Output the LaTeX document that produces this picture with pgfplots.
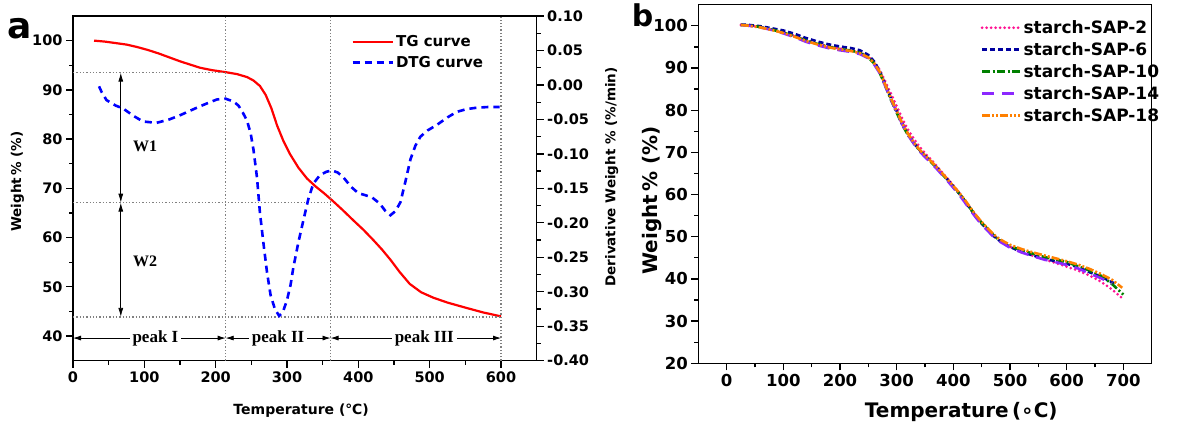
\documentclass[border=0pt]{standalone}
\usepackage{fontspec}
\setmainfont{DejaVu Sans}
\newfontfamily\serifb{Liberation Serif}
\usepackage{pgfplots}
\pgfplotsset{compat=1.18}
\usetikzlibrary{arrows.meta}
\definecolor{tgred}{RGB}{255,0,0}
\definecolor{dtgblue}{RGB}{0,0,255}
\definecolor{cpink}{RGB}{255,20,147}
\definecolor{cnavy}{RGB}{0,0,160}
\definecolor{cgreen}{RGB}{0,128,0}
\definecolor{cviolet}{RGB}{140,40,255}
\definecolor{corange}{RGB}{255,128,0}
\newcommand{\fs}[1]{\fontsize{#1}{#1}\selectfont\bfseries}
\begin{document}
\begin{tikzpicture}
\path[use as bounding box] (0pt,0pt) rectangle (1187pt,-432pt);
\pgfplotsset{
  myaxis/.style={scale only axis, axis line style={line width=1.5pt},
    every tick/.style={line width=1.3pt,black},
    major tick length=7pt, minor tick length=4pt, tick align=outside,
    /pgf/number format/assume math mode=true},
}
% ---------------- panel a: TG ----------------
\begin{axis}[myaxis, at={(73pt,-360.7pt)}, anchor=south west,
  width=463.7pt, height=344.7pt,
  xmin=0, xmax=650, ymin=35, ymax=105,
  xtick={0,100,...,600}, ytick={40,50,...,100},
  minor x tick num=1, minor y tick num=1,
  xtick pos=bottom, ytick pos=left,
  ticklabel style={font=\fs{14.5}},
  xlabel={Temperature (℃)}, ylabel={Weight\,\% (\%)},
  xlabel style={font=\fs{14}, at={(axis description cs:0.492,-0.146)}, anchor=center},
  ylabel style={font=\fs{13.5}, at={(axis description cs:-0.12,0.52)}, anchor=center},
  clip=false]
\addplot[tgred, line width=2.2pt] coordinates {
(29.5,100.0) (45,99.8) (60,99.5) (75,99.2) (90,98.7) (105,98.1) (120,97.4)
(135,96.6) (150,95.8) (165,95.1) (178,94.5) (195,94.0) (214,93.6) (230,93.2)
(244,92.6) (253,91.9) (262,90.8) (270,89.0) (278,86.3) (286,82.8) (295,79.6)
(304,77.0) (316,74.2) (328,72.0) (340,70.4) (352,69.0) (363,67.6) (378,65.6)
(393,63.5) (407,61.6) (421,59.5) (433,57.6) (445,55.5) (458,53.0) (472,50.6)
(488,48.9) (505,47.8) (525,46.8) (552,45.7) (575,44.8) (600,44.0)};
% guides
\draw[gray, dotted, line width=1.3pt] (axis cs:0,93.5) -- (axis cs:214,93.5);
\draw[gray, dotted, line width=1.3pt] (axis cs:0,67.1) -- (axis cs:361,67.1);
\draw[gray, dotted, line width=1.3pt] (axis cs:0,43.9) -- (axis cs:600,43.9);
\draw[gray, dotted, line width=1.3pt] (axis cs:214,35) -- (axis cs:214,105);
\draw[gray, dotted, line width=1.3pt] (axis cs:361,35) -- (axis cs:361,105);
\draw[gray, dotted, line width=1.3pt] (axis cs:600,35) -- (axis cs:600,105);
\draw[{Latex[length=9pt,width=5pt]}-{Latex[length=9pt,width=5pt]}, line width=0.8pt] (axis cs:67,93.5) -- (axis cs:67,67.1);
\draw[{Latex[length=9pt,width=5pt]}-{Latex[length=9pt,width=5pt]}, line width=0.8pt] (axis cs:67,67.1) -- (axis cs:67,43.9);
\node[font=\serifb\fs{16}] at (axis cs:101,78.5) {W1};
\node[font=\serifb\fs{16}] at (axis cs:101,55.1) {W2};
\draw[{Latex[length=8pt,width=5pt]}-{Latex[length=8pt,width=5pt]}, line width=0.8pt] (axis cs:0,39.6) -- node[pos=0.54, fill=white, inner sep=3pt, font=\serifb\fs{17}] {peak I} (axis cs:214,39.6);
\draw[{Latex[length=8pt,width=5pt]}-{Latex[length=8pt,width=5pt]}, line width=0.8pt] (axis cs:214,39.6) -- node[pos=0.5, fill=white, inner sep=3pt, font=\serifb\fs{17}] {peak II} (axis cs:361,39.6);
\draw[{Latex[length=8pt,width=5pt]}-{Latex[length=8pt,width=5pt]}, line width=0.8pt] (axis cs:361,39.6) -- node[pos=0.55, fill=white, inner sep=3pt, font=\serifb\fs{17}] {peak III} (axis cs:600,39.6);
\end{axis}
% ---------------- panel a: DTG (right axis) ----------------
\begin{axis}[myaxis, at={(73pt,-360.7pt)}, anchor=south west,
  width=463.7pt, height=344.7pt,
  xmin=0, xmax=650, ymin=-0.40, ymax=0.10,
  axis x line=none, axis y line*=right,
  ytick={-0.40,-0.35,...,0.101}, minor y tick num=1,
  yticklabel style={font=\fs{14.5}, /pgf/number format/.cd, fixed, fixed zerofill, precision=2},
  ylabel={Derivative Weight \% (\%/min)},
  ylabel style={font=\fs{13.5}, at={(axis description cs:1.162,0.533)}, anchor=center},
  legend style={at={(rel axis cs:0.6,0.95)}, anchor=north west, draw=none, fill=none,
    font=\fs{15}, row sep=4pt, inner sep=0pt},
  legend cell align=left,
  legend image code/.code={\draw[#1] (0pt,0pt) -- (40pt,0pt);}]
\addlegendimage{tgred, line width=2.2pt}
\addlegendentry{TG curve}
\addplot[dtgblue, line width=2.6pt, dash pattern=on 7pt off 5pt] coordinates {
(36.5,-0.002) (40,-0.010) (47,-0.022) (60,-0.030) (70,-0.034) (85,-0.045)
(98,-0.053) (117,-0.055) (135,-0.050) (150,-0.044) (165,-0.037) (178,-0.031)
(192,-0.025) (202,-0.021) (214,-0.020) (225,-0.024) (232,-0.030) (238,-0.040)
(244,-0.052) (249,-0.070) (253,-0.094) (258,-0.135) (262,-0.185) (267,-0.230)
(272,-0.272) (277,-0.305) (283,-0.325) (289,-0.335) (294,-0.330) (300,-0.312)
(305,-0.290) (309,-0.264) (316,-0.228) (323,-0.196) (330,-0.165) (337,-0.143)
(346,-0.131) (355,-0.126) (363,-0.124) (371,-0.127) (379,-0.134) (390,-0.148)
(400,-0.157) (410,-0.160) (419,-0.163) (430,-0.172) (438,-0.183) (445,-0.189)
(452,-0.183) (459,-0.170) (466,-0.140) (473,-0.108) (480,-0.088) (487,-0.075)
(497,-0.066) (510,-0.058) (525,-0.047) (538,-0.039) (552,-0.035) (566,-0.033)
(582,-0.032) (598,-0.032)};
\addlegendentry{DTG curve}
\end{axis}
\draw[line width=1.5pt] (73pt,-16pt) -- (536.7pt,-16pt);
\node[font=\fs{36}, anchor=base] at (20pt,-38pt) {a};
% ---------------- panel b ----------------
\begin{axis}[myaxis, at={(698.3pt,-363.3pt)}, anchor=south west,
  width=453.4pt, height=358.6pt,
  xmin=-50, xmax=750, ymin=20, ymax=105,
  xtick={0,100,...,700}, ytick={20,30,...,100},
  minor x tick num=1, minor y tick num=1,
  xtick pos=bottom, ytick pos=left,
  ticklabel style={font=\fs{16.5}},
  xlabel={Temperature\,(∘C)}, ylabel={Weight\,\% (\%)},
  xlabel style={font=\fs{20}, at={(axis description cs:0.58,-0.135)}, anchor=center},
  ylabel style={font=\fs{20}, at={(axis description cs:-0.103,0.455)}, anchor=center},
  legend style={at={(rel axis cs:0.622,0.962)}, anchor=north west, draw=none, fill=none,
    font=\fs{17}, row sep=3.5pt, inner sep=0pt},
  legend cell align=left,
  legend image code/.code={\draw[#1] (0pt,0pt) -- (38pt,0pt);}]
\addplot[cpink, line width=3pt, line cap=round, dash pattern=on 0pt off 4.5pt] coordinates {
(25,100.2) (40,100.1) (60,99.7) (80,99.1) (100,98.5) (120,97.6) (140,96.6)
(160,95.8) (180,95.1) (200,94.6) (220,94.2) (235,93.7) (250,92.7) (260,91.5)
(270,89.6) (280,86.8) (290,83.9) (300,81.0) (310,78.0) (320,75.4) (330,73.3)
(340,71.4) (350,69.8) (360,68.4) (370,66.9) (380,65.3) (390,63.8) (400,62.2)
(410,60.5) (420,58.7) (430,56.8) (440,55.0) (450,53.4) (460,51.9) (470,50.5)
(480,49.3) (490,48.4) (500,47.6) (520,46.4) (540,45.5) (560,44.6) (580,43.8)
(600,42.9) (620,42.0) (640,40.8) (660,39.4) (680,37.5) (700,35.2)};
\addlegendentry{starch-SAP-2}
\addplot[cnavy, line width=2.6pt, dash pattern=on 5pt off 3pt] coordinates {
(25,100.3) (40,100.2) (60,99.9) (80,99.4) (100,98.9) (120,98.1) (140,97.1)
(160,96.3) (180,95.6) (200,95.1) (220,94.7) (235,94.2) (250,93.1) (260,91.6)
(270,89.3) (280,86.0) (290,82.8) (300,79.8) (310,76.8) (320,74.3) (330,72.3)
(340,70.6) (350,69.2) (360,67.9) (370,66.5) (380,65.0) (390,63.5) (400,61.9)
(410,60.3) (420,58.5) (430,56.6) (440,54.8) (450,53.1) (460,51.7) (470,50.3)
(480,49.2) (490,48.3) (500,47.6) (520,46.4) (540,45.6) (560,44.8) (580,44.2)
(600,43.6) (620,42.8) (640,41.6) (660,40.6) (680,39.2) (688,38.8)};
\addlegendentry{starch-SAP-6}
\addplot[cgreen, line width=2.6pt, dash pattern=on 8pt off 2.5pt on 2pt off 2.5pt] coordinates {
(25,100.2) (40,100.1) (60,99.7) (80,99.1) (100,98.4) (120,97.5) (140,96.5)
(160,95.7) (180,95.0) (200,94.5) (220,94.1) (235,93.6) (250,92.5) (260,91.1)
(270,88.9) (280,85.7) (290,82.4) (300,79.4) (310,76.5) (320,74.1) (330,72.2)
(340,70.5) (350,69.1) (360,67.8) (370,66.4) (380,64.9) (390,63.4) (400,61.8)
(410,60.3) (420,58.6) (430,56.7) (440,54.9) (450,53.3) (460,51.9) (470,50.5)
(480,49.3) (490,48.5) (500,47.8) (520,46.8) (540,46.0) (560,45.2) (580,44.6)
(600,44.0) (620,43.0) (640,42.0) (660,40.8) (680,38.8) (700,36.3)};
\addlegendentry{starch-SAP-10}
\addplot[cviolet, line width=2.6pt, dash pattern=on 12pt off 8pt] coordinates {
(25,100.2) (40,100.0) (60,99.6) (80,99.0) (100,98.2) (120,97.3) (140,96.2)
(160,95.4) (180,94.7) (200,94.2) (220,93.8) (235,93.3) (250,92.3) (260,90.9)
(270,88.8) (280,85.7) (290,82.5) (300,79.6) (310,76.6) (320,74.1) (330,72.1)
(340,70.3) (350,68.9) (360,67.6) (370,66.2) (380,64.7) (390,63.2) (400,61.6)
(410,60.0) (420,58.2) (430,56.3) (440,54.5) (450,52.9) (460,51.5) (470,50.1)
(480,49.0) (490,48.2) (500,47.4) (520,46.3) (540,45.4) (560,44.6) (580,44.0)
(600,43.3) (620,42.5) (640,41.3) (660,40.2) (680,38.9)};
\addlegendentry{starch-SAP-14}
\addplot[corange, line width=2.6pt, dash pattern=on 8pt off 2pt on 2pt off 2pt on 2pt off 2pt] coordinates {
(25,100.2) (40,100.0) (60,99.6) (80,99.0) (100,98.3) (120,97.4) (140,96.4)
(160,95.6) (180,94.9) (200,94.4) (220,94.0) (235,93.5) (250,92.5) (260,91.2)
(270,89.1) (280,86.0) (290,82.8) (300,79.8) (310,76.9) (320,74.4) (330,72.4)
(340,70.7) (350,69.3) (360,68.0) (370,66.6) (380,65.1) (390,63.6) (400,62.0)
(410,60.5) (420,58.8) (430,56.9) (440,55.1) (450,53.5) (460,52.1) (470,50.7)
(480,49.6) (490,48.8) (500,48.1) (520,47.1) (540,46.3) (560,45.6) (580,44.9)
(600,44.2) (620,43.4) (640,42.4) (660,41.2) (680,39.8) (698,37.9)};
\addlegendentry{starch-SAP-18}
\end{axis}
\node[font=\fs{30}, anchor=base] at (642.5pt,-26.7pt) {b};
\end{tikzpicture}
\end{document}
